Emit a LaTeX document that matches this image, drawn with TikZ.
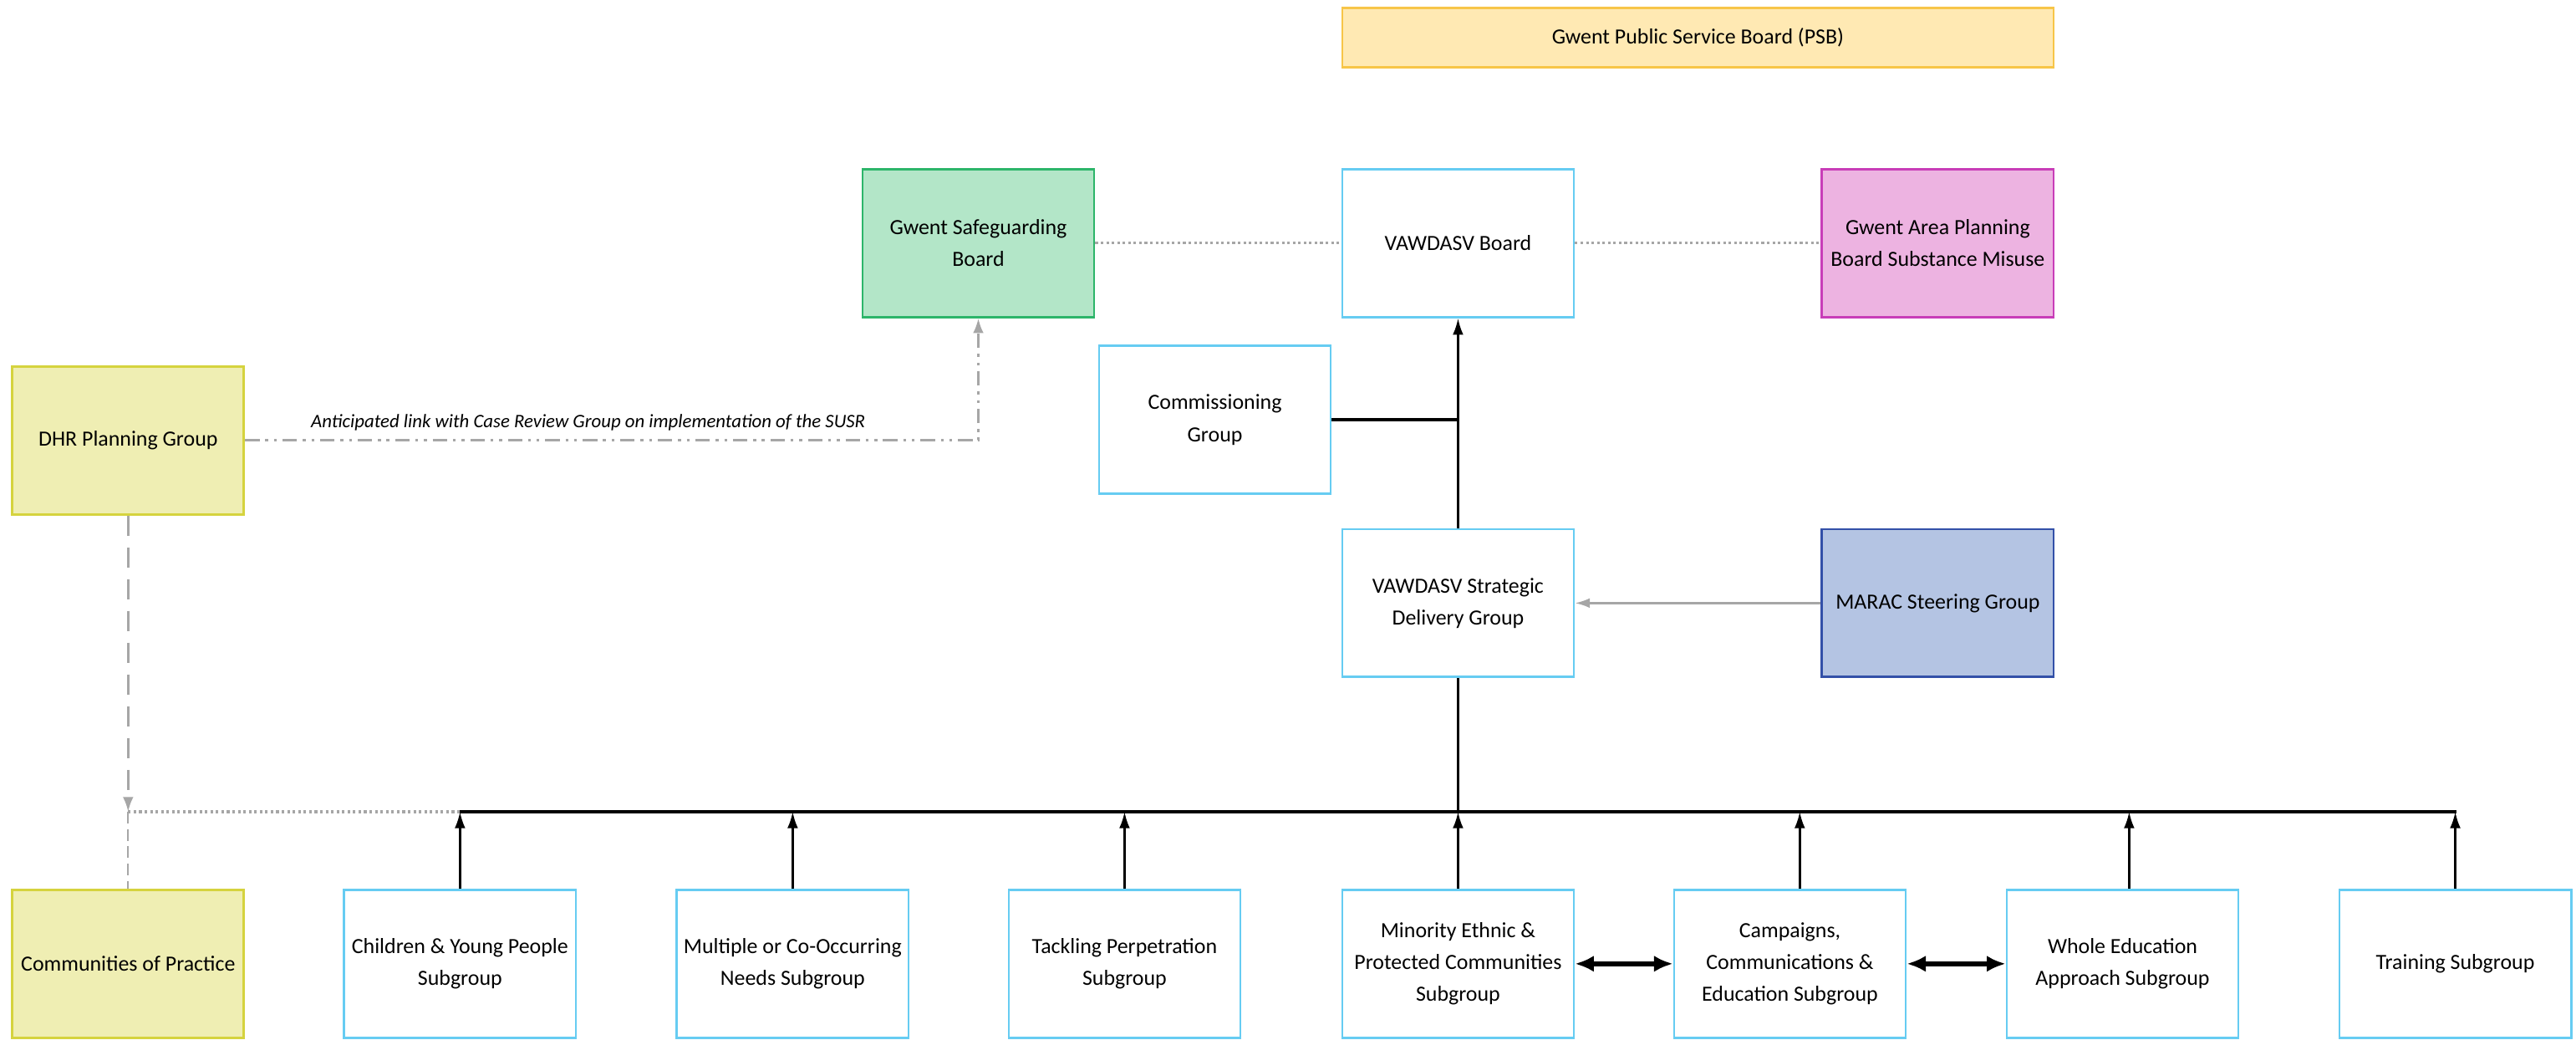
\documentclass[tikz,border=0pt]{standalone}
\usepackage{fontspec}
\setmainfont{Carlito}
\usetikzlibrary{arrows.meta}
\definecolor{grpblue}{HTML}{66CCF2}
\definecolor{psbfill}{HTML}{FFE9B3}
\definecolor{psbline}{HTML}{F7C548}
\definecolor{sgfill}{HTML}{B3E6C8}
\definecolor{sgline}{HTML}{2DB56A}
\definecolor{apbfill}{HTML}{EDB3E1}
\definecolor{apbline}{HTML}{C83DB8}
\definecolor{dhrfill}{HTML}{EFEEB3}
\definecolor{dhrline}{HTML}{D5D33E}
\definecolor{maracfill}{HTML}{B4C4E3}
\definecolor{maracline}{HTML}{3350A8}
\definecolor{linkgrey}{HTML}{A6A6A6}

\begin{document}
\begin{tikzpicture}[x=0.02cm, y=0.02cm]
  \tikzstyle{every node}+=[inner sep=0pt, font=\fontsize{7.5}{11.1}\selectfont]
  \tikzstyle{grp}=[draw=grpblue, line width=0.8pt, fill=white, align=center, minimum width=2.82cm, minimum height=1.8cm]
  \tikzstyle{up}=[black, line width=0.7pt, -{Latex[length=2mm,width=1.3mm]}]
  \tikzstyle{both}=[black, line width=1.6pt, {Latex[length=2.3mm,width=2mm]}-{Latex[length=2.3mm,width=2mm]}]
  \tikzstyle{faint}=[linkgrey, line width=0.9pt, densely dotted]
  \tikzstyle{link}=[linkgrey, line width=0.8pt, dash pattern=on 5pt off 2pt on 1pt off 2pt on 1pt off 2pt]
  \useasboundingbox (0,0) rectangle (1568,-632.4);

  \draw [psbline, fill=psbfill, line width=0.8pt] (817,-5) rectangle (1250,-41);
  \node (psb) at (1033.5,-23) {Gwent Public Service Board (PSB)};

  \node [grp, draw=sgline, fill=sgfill] (safeg) at (595.5,-148) {Gwent Safeguarding\\Board};
  \node [grp] (vboard) at (887.5,-148) {VAWDASV Board};
  \node [grp, draw=apbline, fill=apbfill] (apb) at (1179.5,-148) {Gwent Area Planning\\Board Substance Misuse};
  \node [grp] (comm) at (739.5,-255.5) {Commissioning\\Group};
  \node [grp, draw=dhrline, fill=dhrfill] (dhr) at (78,-268) {DHR Planning Group};
  \node [grp] (sdg) at (887.5,-367) {VAWDASV Strategic\\Delivery Group};
  \node [grp, draw=maracline, fill=maracfill] (marac) at (1179.5,-367) {MARAC Steering Group};

  \node [grp, draw=dhrline, fill=dhrfill] (cop) at (78,-586.5) {Communities of Practice};
  \node [grp] (cyp) at (280,-586.5) {Children \& Young People\\Subgroup};
  \node [grp] (mult) at (482.5,-586.5) {Multiple or Co-Occurring\\Needs Subgroup};
  \node [grp] (tack) at (684.5,-586.5) {Tackling Perpetration\\Subgroup};
  \node [grp] (mepc) at (887.5,-586.5) {Minority Ethnic \&\\Protected Communities\\Subgroup};
  \node [grp] (cce) at (1089.5,-586.5) {Campaigns,\\Communications \&\\Education Subgroup};
  \node [grp] (wea) at (1292,-586.5) {Whole Education\\Approach Subgroup};
  \node [grp] (train) at (1494.5,-586.5) {Training Subgroup};

  \coordinate (busl) at (280,-494);
  \coordinate (busr) at (1495,-494);
  \coordinate (copin) at (78,-494);

  \draw [faint] (safeg) -- (vboard);
  \draw [faint] (vboard) -- (apb);
  \draw [up] (sdg) -- (vboard);
  \draw [black, line width=1.2pt] (comm.east) -- (comm.east -| vboard);
  \draw [linkgrey, line width=0.7pt, -{Latex[length=1.8mm,width=1.2mm]}] (marac) -- (sdg);

  \draw [black, line width=1.2pt] (busl) -- (busr);
  \draw [black, line width=0.7pt] (sdg) -- (sdg |- busl);
  \foreach \g in {cyp, mult, tack, mepc}
    \draw [up] (\g.north) -- (\g |- busl);
  \draw [up] ([xshift=0.12cm]cce.north) -- ([xshift=0.12cm]cce.north |- busl);
  \draw [up] ([xshift=0.08cm]wea.north) -- ([xshift=0.08cm]wea.north |- busl);
  \draw [up] (train.north) -- (train |- busl);
  \draw [both] (mepc) -- (cce);
  \draw [both] (cce) -- (wea);

  \draw [link, -{Latex[length=1.8mm,width=1.3mm]}] (dhr.east) -| (safeg.south);
  \node [font=\fontsize{6.6}{8}\selectfont\itshape] (ant) at (358,-257) {Anticipated link with Case Review Group on implementation of the SUSR};

  \draw [linkgrey, line width=0.8pt, dash pattern=on 7pt off 4pt, -{Latex[length=1.8mm,width=1.3mm]}] (dhr) -- (copin);
  \draw [linkgrey, line width=0.5pt, dash pattern=on 4pt off 2pt] (copin) -- (cop);
  \draw [faint] (copin) -- (busl);
\end{tikzpicture}
\end{document}
